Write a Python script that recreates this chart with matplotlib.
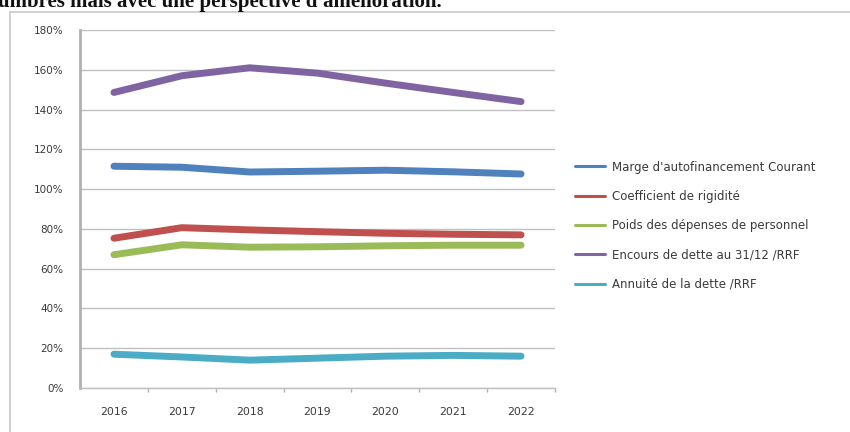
import matplotlib
matplotlib.use("Agg")
import matplotlib.pyplot as plt
from matplotlib.patches import Rectangle
from matplotlib.ticker import FuncFormatter, FixedLocator

years = ["2016", "2017", "2018", "2019", "2020", "2021", "2022"]
marge = [111.5, 111.0, 108.6, 109.0, 109.5, 108.7, 107.6]
coef_rigidite = [75.3, 80.6, 79.5, 78.6, 77.8, 77.3, 77.0]
poids_personnel = [67.0, 72.0, 70.8, 71.0, 71.5, 71.8, 71.8]
encours_dette = [148.6, 157.0, 161.0, 158.3, 153.3, 148.6, 144.0]
annuite_dette = [17.0, 15.6, 14.0, 15.0, 16.0, 16.4, 16.0]

labels = ["Marge d'autofinancement Courant", "Coefficient de rigidité",
          "Poids des dépenses de personnel", "Encours de dette au 31/12 /RRF",
          "Annuité de la dette /RRF"]
colors = ["#4F81BD", "#C0504D", "#9BBB59", "#8064A2", "#4BACC6"]
series = [marge, coef_rigidite, poids_personnel, encours_dette, annuite_dette]

W, H = 850, 432
fig = plt.figure(figsize=(W / 100, H / 100), dpi=100)

# outer chart frame
fig.patches.append(Rectangle((10 / W, -0.05), (W - 8) / W, 1.05 - 12 / H,
                             transform=fig.transFigure, fill=False,
                             edgecolor="#c8c8c8", linewidth=1.2, zorder=0))

# heading text at very top (clipped in the source screenshot)
fig.text(-2 / W, 1 - 7 / H, "umbres mais avec une perspective d'amélioration.",
         fontsize=15, fontweight="bold", family="Liberation Serif",
         ha="left", va="baseline", color="#111111")

ax = fig.add_axes([80 / W, 1 - 388 / H, (555 - 80) / W, (388 - 30) / H])
x = list(range(len(years)))
for vals, c, lab in zip(series, colors, labels):
    ax.plot(x, vals, color=c, linewidth=5, solid_capstyle="round",
            solid_joinstyle="round", label=lab)

ax.set_xlim(-0.5, len(years) - 0.5)
ax.set_ylim(0, 180)
ax.yaxis.set_major_locator(FixedLocator(list(range(0, 181, 20))))
ax.yaxis.set_major_formatter(FuncFormatter(lambda v, p: f"{int(v)}%"))
ax.set_xticks(x)
ax.set_xticklabels(years)
ax.set_xticks([i + 0.5 for i in x], minor=True)
ax.tick_params(axis="x", which="major", length=0, pad=14, labelsize=7.8,
               labelcolor="#3a3a3a")
ax.tick_params(axis="x", which="minor", length=3, color="#b0b0b0", width=1,
               direction="out")
ax.tick_params(axis="y", length=0, pad=12, labelsize=7.5, labelcolor="#3a3a3a")
for lab in ax.get_xticklabels() + ax.get_yticklabels():
    lab.set_family("DejaVu Sans")

ax.grid(axis="y", color="#c0c0c0", linewidth=1)
ax.set_axisbelow(True)
for s in ["top", "right"]:
    ax.spines[s].set_visible(False)
ax.spines["left"].set_color("#b0b0b0")
ax.spines["left"].set_linewidth(2)
ax.spines["bottom"].set_color("#c0c0c0")
ax.spines["bottom"].set_linewidth(1)

leg = fig.legend(loc="upper left", bbox_to_anchor=(564 / W, 1 - 150 / H),
                 frameon=False, handlelength=2.6,
                 handletextpad=0.6, labelspacing=1.38,
                 prop={"family": "DejaVu Sans", "size": 8.5})
for line in leg.get_lines():
    line.set_linewidth(2.2)
for t in leg.get_texts():
    t.set_color("#3a3a3a")

fig.savefig("out.png", dpi=100)
